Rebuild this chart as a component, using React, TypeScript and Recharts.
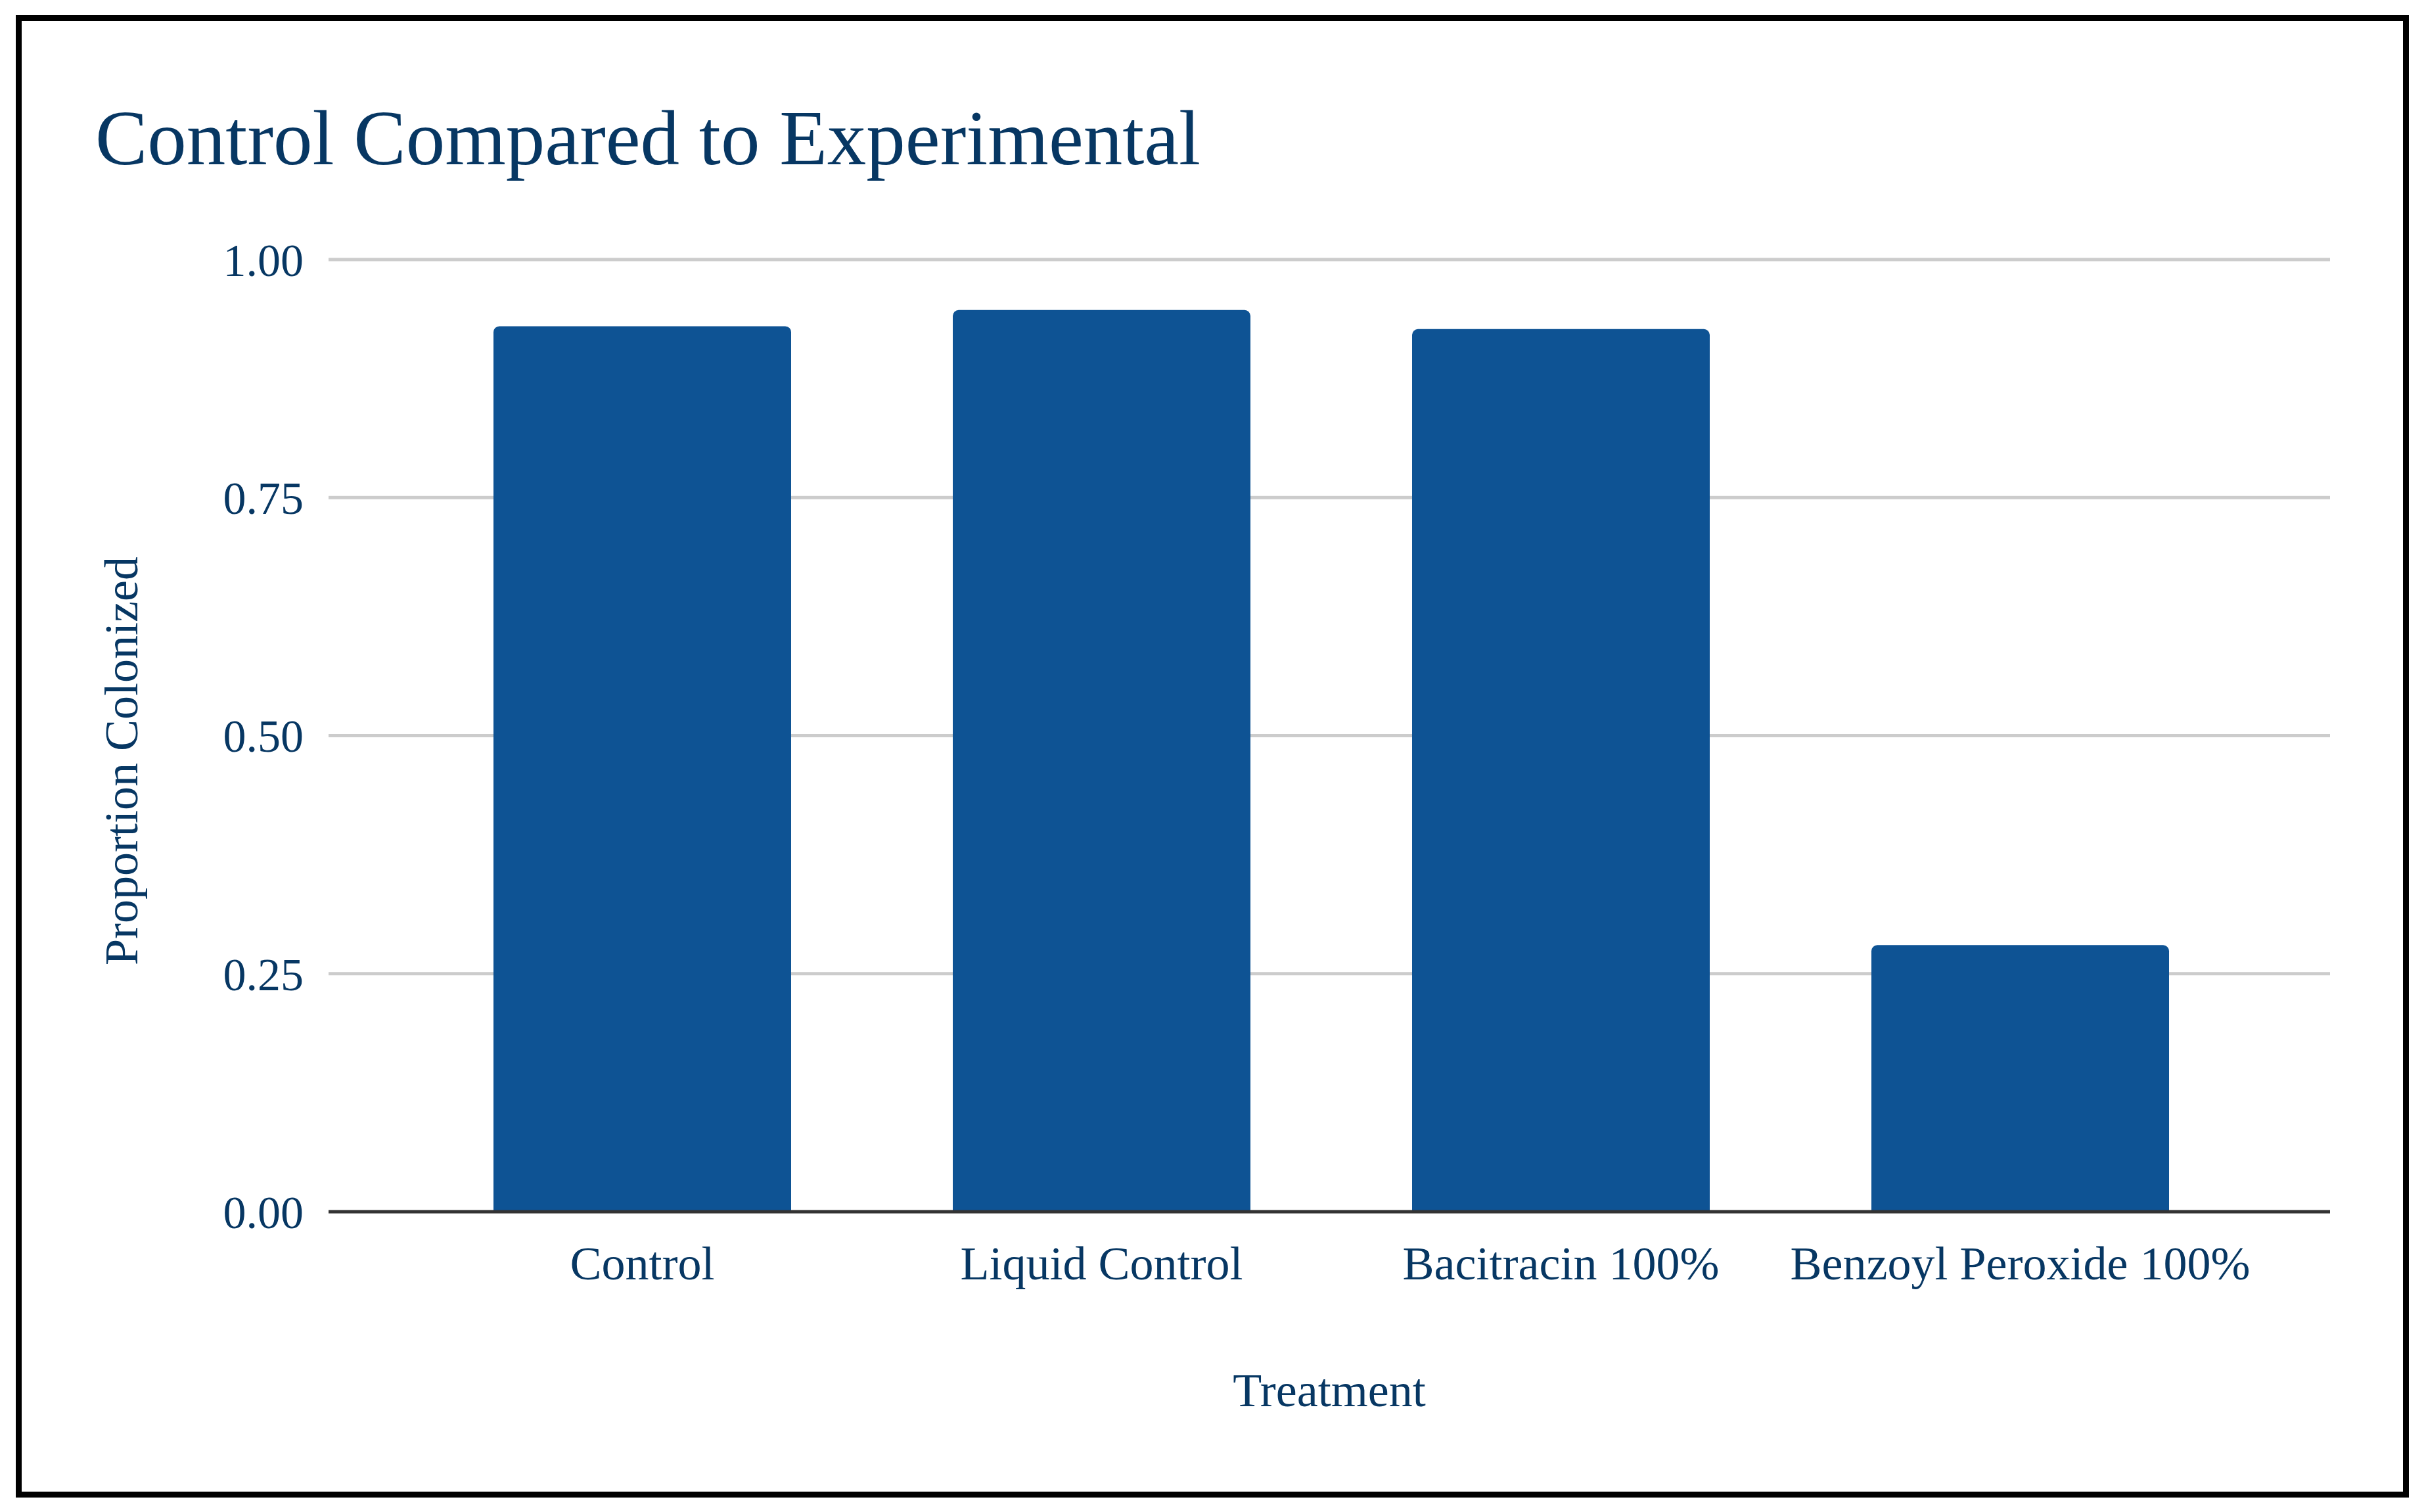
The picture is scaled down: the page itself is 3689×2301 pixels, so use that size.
import { BarChart, Bar, XAxis, YAxis, CartesianGrid } from "recharts";

const treatments = [
  "Control",
  "Liquid Control",
  "Bacitracin 100%",
  "Benzoyl Peroxide 100%",
];
const proportionColonized = [0.93, 0.947, 0.927, 0.28];
const yTicks = [0, 0.25, 0.5, 0.75, 1];

const chartData = treatments.map((name, i) => ({
  name,
  value: proportionColonized[i],
}));

const W = 3689;
const H = 2301;
const serif = '"Liberation Serif", "Times New Roman", serif';
const ink = "#073763";

export default function App() {
  return (
    <div
      style={{
        position: "absolute",
        left: 0,
        top: 0,
        width: W,
        height: H,
        background: "#fff",
      }}
    >
      <BarChart
        width={W}
        height={H}
        data={chartData}
        margin={{ top: 395, right: 143, bottom: 157, left: 0 }}
      >
        <CartesianGrid vertical={false} stroke="#cccccc" strokeWidth={5} />
        <XAxis
          dataKey="name"
          height={300}
          padding={{ left: 128, right: 122 }}
          axisLine={{ stroke: "#333333", strokeWidth: 5 }}
          tickLine={false}
          tickMargin={46}
          tick={{ fill: ink, fontSize: 72, fontFamily: serif }}
          interval={0}
        />
        <YAxis
          width={500}
          domain={[0, 1]}
          ticks={yTicks}
          tickFormatter={(v: number) => v.toFixed(2)}
          axisLine={false}
          tickLine={false}
          tickMargin={32}
          tick={{ fill: ink, fontSize: 70, fontFamily: serif }}
        />
        <Bar
          dataKey="value"
          fill="#0e5394"
          barSize={453}
          radius={[9, 9, 0, 0]}
          isAnimationActive={false}
        />
      </BarChart>
      <svg
        width={W}
        height={H}
        style={{ position: "absolute", left: 0, top: 0, pointerEvents: "none" }}
      >
        <rect
          x={28.5}
          y={27.5}
          width={3633}
          height={2247}
          fill="none"
          stroke="#000"
          strokeWidth={9}
        />
        <text x={145} y={250} fill={ink} fontSize={119} fontFamily={serif}>
          Control Compared to Experimental
        </text>
        <text
          x={2023}
          y={2140}
          fill={ink}
          fontSize={72}
          fontFamily={serif}
          textAnchor="middle"
        >
          Treatment
        </text>
        <text
          x={209}
          y={1158}
          fill={ink}
          fontSize={72}
          fontFamily={serif}
          textAnchor="middle"
          transform="rotate(-90 209 1158)"
        >
          Proportion Colonized
        </text>
      </svg>
    </div>
  );
}
